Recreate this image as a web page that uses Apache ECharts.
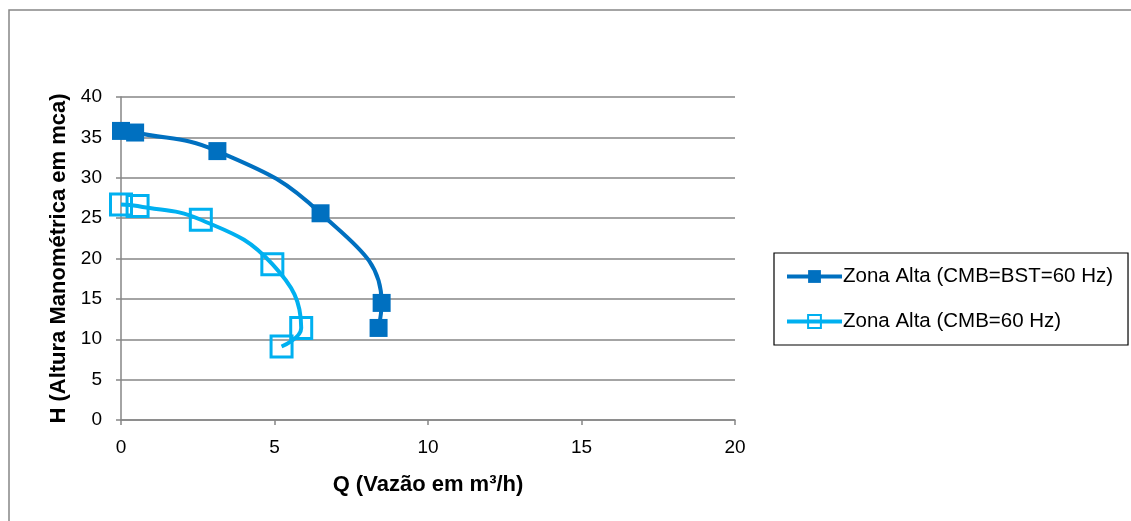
<!DOCTYPE html>
<html>
<head>
<meta charset="utf-8">
<script src="https://cdn.jsdelivr.net/npm/echarts@6/dist/echarts.min.js"></script>
<style>
html,body{margin:0;padding:0;background:#fff;}
#chart{width:1131px;height:521px;}
</style>
</head>
<body>
<div id="chart"></div>
<script>
const seriesNames = ['Zona Alta (CMB=BST=60 Hz)', 'Zona Alta (CMB=60 Hz)'];
const qBST = [0, 0.46, 3.14, 6.5, 8.49, 8.39];
const hBST = [35.8, 35.6, 33.3, 25.6, 14.5, 11.4];
const q60 = [0, 0.54, 2.6, 4.93, 5.87, 5.23];
const h60 = [26.7, 26.5, 24.8, 19.3, 11.4, 9.1];
const xTitle = 'Q (Vazão em m³/h)';
const yTitle = 'H (Altura Manométrica em mca)';

const pairs = (xs, ys) => xs.map((x, i) => [x, ys[i]]);
const FONT = '"Liberation Sans", Arial, sans-serif';
const GRID = '#868686';

const chart = echarts.init(document.getElementById('chart'));
chart.setOption({
  animation: false,
  backgroundColor: '#fff',
  textStyle: {fontFamily: FONT},
  graphic: [{
    type: 'rect', z: 100,
    shape: {x: 9, y: 10, width: 1200, height: 600},
    style: {fill: 'none', stroke: GRID, lineWidth: 1.5}
  }],
  grid: {left: 121, right: 396, top: 97, bottom: 101},
  xAxis: {
    type: 'value', min: 0, max: 20, interval: 5,
    name: xTitle, nameLocation: 'middle', nameGap: 54,
    nameTextStyle: {fontFamily: FONT, fontWeight: 'bold', fontSize: 22, color: '#000'},
    axisLine: {show: true, lineStyle: {color: GRID, width: 1.5}},
    axisTick: {show: true, length: 5, lineStyle: {color: GRID, width: 1.5}},
    axisLabel: {fontFamily: FONT, fontSize: 19, color: '#000', margin: 18},
    splitLine: {show: false}
  },
  yAxis: {
    type: 'value', min: 0, max: 40, interval: 5,
    name: yTitle, nameLocation: 'middle', nameGap: 51, nameRotate: 90,
    nameTextStyle: {fontFamily: FONT, fontWeight: 'bold', fontSize: 22, color: '#000'},
    axisLine: {show: true, lineStyle: {color: GRID, width: 1.5}},
    axisTick: {show: true, length: 5, lineStyle: {color: GRID, width: 1.5}},
    axisLabel: {fontFamily: FONT, fontSize: 19, color: '#000', margin: 19},
    splitLine: {show: true, lineStyle: {color: GRID, width: 1.5}}
  },
  legend: {
    orient: 'vertical', left: 774, top: 253,
    padding: [13, 15, 13, 11], itemGap: 24,
    itemWidth: 55, itemHeight: 16,
    borderColor: '#000', borderWidth: 1.2,
    lineStyle: {width: 4},
    textStyle: {fontFamily: FONT, fontSize: 20.5, color: '#000', lineHeight: 20, padding: [0, 0, 0, -4]},
    data: seriesNames
  },
  series: [{
    name: seriesNames[0], type: 'line', smooth: 0.45,
    data: pairs(qBST, hBST),
    symbol: 'rect', symbolSize: 18,
    lineStyle: {color: '#0070C0', width: 4},
    itemStyle: {color: '#0070C0'},
    z: 3
  }, {
    name: seriesNames[1], type: 'line', smooth: 0.45,
    data: pairs(q60, h60),
    symbol: 'rect', symbolSize: 21,
    lineStyle: {color: '#00B0F0', width: 4},
    itemStyle: {color: 'rgba(255,255,255,0)', borderColor: '#00B0F0', borderWidth: 3},
    z: 2
  }]
});
</script>
</body>
</html>
